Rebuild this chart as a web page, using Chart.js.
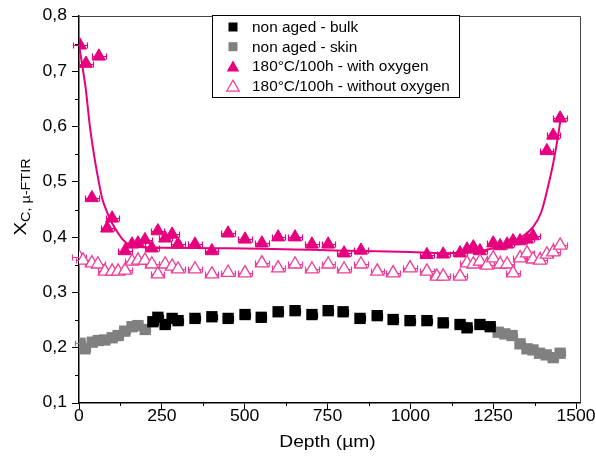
<!DOCTYPE html>
<html>
<head>
<meta charset="utf-8">
<script src="https://cdn.jsdelivr.net/npm/chart.js@4.4.1/dist/chart.umd.min.js"></script>
<style>
html, body { margin: 0; padding: 0; background: #fff; }
</style>
</head>
<body>
<canvas id="myChart" width="596" height="457"></canvas>
<script>
// dane
var xTicks = [0, 250, 500, 750, 1000, 1250, 1500];
var yTicks = [0.1, 0.2, 0.3, 0.4, 0.5, 0.6, 0.7, 0.8];

var bulkDepth = [223, 238, 260, 281, 299, 350, 401, 450, 501, 550, 601, 652, 703, 752, 797, 848, 900, 948, 999, 1050, 1099, 1150, 1171, 1210, 1241];
var bulkXc = [0.247, 0.255, 0.242, 0.253, 0.249, 0.253, 0.256, 0.253, 0.26, 0.255, 0.265, 0.267, 0.26, 0.267, 0.265, 0.253, 0.258, 0.251, 0.249, 0.249, 0.245, 0.242, 0.236, 0.242, 0.238];

var skinDepth = [3, 18, 40, 58, 78, 100, 118, 138, 160, 178, 200, 1265, 1285, 1307, 1331, 1352, 1370, 1390, 1410, 1431, 1452];
var skinXc = [0.208, 0.198, 0.21, 0.213, 0.214, 0.218, 0.222, 0.23, 0.238, 0.24, 0.233, 0.228, 0.225, 0.222, 0.207, 0.198, 0.196, 0.19, 0.187, 0.182, 0.19];

var oxyDepth = [3, 21, 60, 39, 85, 100, 139, 160, 178, 199, 220, 238, 260, 281, 299, 350, 401, 450, 501, 552, 601, 652, 703, 752, 800, 851, 1050, 1099, 1150, 1171, 1190, 1210, 1250, 1271, 1292, 1310, 1331, 1352, 1370, 1412, 1431, 1452];
var oxyXc = [0.747, 0.714, 0.727, 0.471, 0.416, 0.434, 0.375, 0.387, 0.389, 0.395, 0.38, 0.411, 0.398, 0.405, 0.387, 0.387, 0.375, 0.407, 0.396, 0.389, 0.4, 0.4, 0.387, 0.387, 0.371, 0.376, 0.368, 0.369, 0.371, 0.378, 0.382, 0.375, 0.389, 0.384, 0.387, 0.393, 0.393, 0.396, 0.402, 0.556, 0.584, 0.615];

var noOxyDepth = [0, 12, 39, 57, 78, 100, 118, 139, 160, 178, 199, 220, 238, 260, 281, 299, 350, 401, 450, 501, 552, 601, 652, 703, 752, 800, 851, 900, 948, 999, 1050, 1080, 1099, 1150, 1171, 1190, 1210, 1231, 1250, 1271, 1292, 1310, 1331, 1352, 1370, 1391, 1412, 1431, 1452];
var noOxyXc = [0.364, 0.358, 0.353, 0.351, 0.338, 0.338, 0.338, 0.34, 0.356, 0.358, 0.358, 0.351, 0.333, 0.351, 0.347, 0.342, 0.342, 0.333, 0.336, 0.335, 0.353, 0.344, 0.351, 0.342, 0.351, 0.342, 0.351, 0.338, 0.335, 0.344, 0.338, 0.329, 0.329, 0.329, 0.353, 0.351, 0.356, 0.349, 0.362, 0.351, 0.351, 0.335, 0.362, 0.371, 0.36, 0.358, 0.369, 0.373, 0.385];

// linia dopasowania (with oxygen)
var fitDepth = [0, 10, 20, 33, 45, 55, 70, 85, 100, 115, 133, 155, 180, 250, 400, 550, 700, 850, 1000, 1100, 1200, 1250, 1300, 1340, 1370, 1395, 1415, 1430, 1445, 1455];
var fitXc = [0.748, 0.71, 0.67, 0.6, 0.55, 0.515, 0.47, 0.445, 0.425, 0.41, 0.395, 0.385, 0.382, 0.381, 0.38, 0.379, 0.377, 0.375, 0.373, 0.371, 0.374, 0.38, 0.39, 0.402, 0.418, 0.445, 0.49, 0.53, 0.58, 0.62];

var MAGENTA = 'rgb(230,0,126)';
var PINK = 'rgb(238,60,150)';
var FONT = 'Arial, "Liberation Sans", sans-serif';

function toPoints(xs, ys) {
    return xs.map(function (x, i) { return { x: x, y: ys[i] }; });
}

// tekst rozciagniety w poziomie (jak w oryginale)
function stretchText(ctx, text, x, y, sx, align) {
    ctx.save();
    ctx.translate(x, y);
    ctx.scale(sx, 1);
    ctx.textAlign = align;
    ctx.fillText(text, 0, 0);
    ctx.restore();
}

// poziome slupki bledow
var errorBars = {
    id: 'errorBars',
    beforeDatasetsDraw: function (chart) {
        var ctx = chart.ctx;
        var xs = chart.scales.x, ys = chart.scales.y;
        chart.data.datasets.forEach(function (ds) {
            if (!ds.xErr) return;
            ctx.save();
            ctx.strokeStyle = ds.errColor;
            ctx.lineWidth = 1.2;
            ds.data.forEach(function (p) {
                var x1 = Math.round(xs.getPixelForValue(p.x - ds.xErr)) + 0.5;
                var x2 = Math.round(xs.getPixelForValue(p.x + ds.xErr)) + 0.5;
                var y = Math.round(ys.getPixelForValue(p.y)) + 0.5;
                ctx.beginPath();
                ctx.moveTo(x1, y); ctx.lineTo(x2, y);
                ctx.moveTo(x1, y - 3); ctx.lineTo(x1, y + 3);
                ctx.moveTo(x2, y - 3); ctx.lineTo(x2, y + 3);
                ctx.stroke();
            });
            ctx.restore();
        });
    }
};

// ramka, drobne podzialki, etykiety, tytuly osi, legenda
var decorations = {
    id: 'decorations',
    afterDraw: function (chart) {
        var ctx = chart.ctx;
        var a = chart.chartArea;
        var xs = chart.scales.x, ys = chart.scales.y;
        ctx.save();

        ctx.strokeStyle = '#444';
        ctx.lineWidth = 1;
        ctx.beginPath();
        ctx.moveTo(a.left, a.top + 0.5); ctx.lineTo(a.right + 0.5, a.top + 0.5);
        ctx.lineTo(a.right + 0.5, a.bottom);
        ctx.stroke();

        ctx.strokeStyle = '#000';
        ctx.lineWidth = 1;
        ctx.beginPath();
        for (var v = 125; v < 1500; v += 250) {
            var px = Math.round(xs.getPixelForValue(v)) + 0.5;
            ctx.moveTo(px, a.bottom); ctx.lineTo(px, a.bottom + 3);
        }
        for (var w = 0.15; w < 0.8; w += 0.1) {
            var py = Math.round(ys.getPixelForValue(w)) + 0.5;
            ctx.moveTo(a.left, py); ctx.lineTo(a.left - 4, py);
        }
        ctx.stroke();

        // etykiety podzialek
        ctx.fillStyle = '#000';
        ctx.font = '16px ' + FONT;
        ctx.textBaseline = 'middle';
        xTicks.forEach(function (t) {
            stretchText(ctx, String(t), xs.getPixelForValue(t), 417, 1.1, 'center');
        });
        yTicks.forEach(function (t) {
            stretchText(ctx, t.toFixed(1).replace('.', ','), 67, ys.getPixelForValue(t), 1.1, 'right');
        });

        // tytul osi X
        ctx.font = '16px ' + FONT;
        ctx.textBaseline = 'alphabetic';
        stretchText(ctx, 'Depth (\u00b5m)', (a.left + a.right) / 2 - 2, 447, 1.2, 'center');

        // tytul osi Y z indeksem dolnym
        ctx.save();
        ctx.translate(26, 197);
        ctx.rotate(-Math.PI / 2);
        ctx.scale(1.2, 1);
        ctx.textAlign = 'left';
        ctx.font = '17px ' + FONT;
        var wX = ctx.measureText('X').width;
        ctx.font = '12px ' + FONT;
        var sub = 'C, \u00b5-FTIR';
        var wS = ctx.measureText(sub).width;
        var start = -(wX + wS) / 2;
        ctx.font = '17px ' + FONT;
        ctx.fillText('X', start, 0);
        ctx.font = '12px ' + FONT;
        ctx.fillText(sub, start + wX, 4);
        ctx.restore();

        // legenda
        var lx = 212, ly = 15, lw = 247, lh = 82;
        ctx.fillStyle = '#fff';
        ctx.fillRect(lx, ly, lw, lh);
        ctx.strokeStyle = '#000';
        ctx.lineWidth = 1;
        ctx.strokeRect(lx + 0.5, ly + 0.5, lw, lh);
        var items = [
            { label: 'non aged - bulk', type: 'square', color: '#000' },
            { label: 'non aged - skin', type: 'square', color: '#808080' },
            { label: '180\u00b0C/100h - with oxygen', type: 'tri', color: MAGENTA },
            { label: '180\u00b0C/100h - without oxygen', type: 'triOpen', color: PINK }
        ];
        ctx.font = '14px ' + FONT;
        ctx.textBaseline = 'middle';
        items.forEach(function (it, i) {
            var cy = 27 + i * 19.7;
            var cx = 233;
            if (it.type === 'square') {
                ctx.fillStyle = it.color;
                ctx.fillRect(cx - 4.5, cy - 4.5, 9, 9);
            } else {
                ctx.beginPath();
                ctx.moveTo(cx, cy - 6);
                ctx.lineTo(cx + 6.3, cy + 5);
                ctx.lineTo(cx - 6.3, cy + 5);
                ctx.closePath();
                if (it.type === 'tri') {
                    ctx.fillStyle = it.color;
                    ctx.fill();
                } else {
                    ctx.strokeStyle = it.color;
                    ctx.lineWidth = 1.2;
                    ctx.stroke();
                }
            }
            ctx.fillStyle = '#000';
            stretchText(ctx, it.label, 252, cy + 1, 1.1, 'left');
        });

        ctx.restore();
    }
};

function generateChart() {
    var ctx = document.getElementById('myChart').getContext('2d');
    new Chart(ctx, {
        type: 'scatter',
        data: {
            datasets: [
                {
                    label: '180°C/100h - without oxygen',
                    data: toPoints(noOxyDepth, noOxyXc),
                    pointStyle: 'triangle',
                    pointRadius: 7.5,
                    pointBackgroundColor: '#fff',
                    pointBorderColor: PINK,
                    pointBorderWidth: 1.3,
                    xErr: 20,
                    errColor: PINK
                },
                {
                    label: 'fit',
                    data: toPoints(fitDepth, fitXc),
                    showLine: true,
                    pointRadius: 0,
                    borderColor: MAGENTA,
                    borderWidth: 2,
                    cubicInterpolationMode: 'monotone'
                },
                {
                    label: '180°C/100h - with oxygen',
                    data: toPoints(oxyDepth, oxyXc),
                    pointStyle: 'triangle',
                    pointRadius: 7.5,
                    pointBackgroundColor: MAGENTA,
                    pointBorderColor: MAGENTA,
                    pointBorderWidth: 1,
                    xErr: 20,
                    errColor: MAGENTA
                },
                {
                    label: 'non aged - bulk',
                    data: toPoints(bulkDepth, bulkXc),
                    pointStyle: 'rect',
                    pointRadius: 8,
                    pointBackgroundColor: '#000',
                    pointBorderColor: '#000',
                    pointBorderWidth: 0,
                    xErr: 15,
                    errColor: '#000'
                },
                {
                    label: 'non aged - skin',
                    data: toPoints(skinDepth, skinXc),
                    pointStyle: 'rect',
                    pointRadius: 8,
                    pointBackgroundColor: '#808080',
                    pointBorderColor: '#808080',
                    pointBorderWidth: 0,
                    xErr: 15,
                    errColor: '#808080'
                }
            ]
        },
        options: {
            responsive: false,
            animation: false,
            layout: { padding: { left: 0, right: 16, top: 16, bottom: 0 } },
            plugins: {
                legend: { display: false },
                tooltip: { enabled: false }
            },
            scales: {
                x: {
                    type: 'linear',
                    min: 0,
                    max: 1512,
                    afterBuildTicks: function (axis) {
                        axis.ticks = xTicks.map(function (v) { return { value: v }; });
                    },
                    afterFit: function (axis) { axis.height = 54; },
                    grid: { drawOnChartArea: false, drawTicks: true, tickLength: 6, color: '#000', tickWidth: 1 },
                    border: { color: '#000', width: 1.5 },
                    ticks: { display: false, autoSkip: false }
                },
                y: {
                    min: 0.1,
                    max: 0.8,
                    afterBuildTicks: function (axis) {
                        axis.ticks = yTicks.map(function (v) { return { value: v }; });
                    },
                    afterFit: function (axis) { axis.width = 79; },
                    grid: { drawOnChartArea: false, drawTicks: true, tickLength: 7, color: '#000', tickWidth: 1 },
                    border: { color: '#000', width: 1.5 },
                    ticks: { display: false, autoSkip: false }
                }
            }
        },
        plugins: [errorBars, decorations]
    });
}

document.addEventListener('DOMContentLoaded', generateChart);
</script>
</body>
</html>
